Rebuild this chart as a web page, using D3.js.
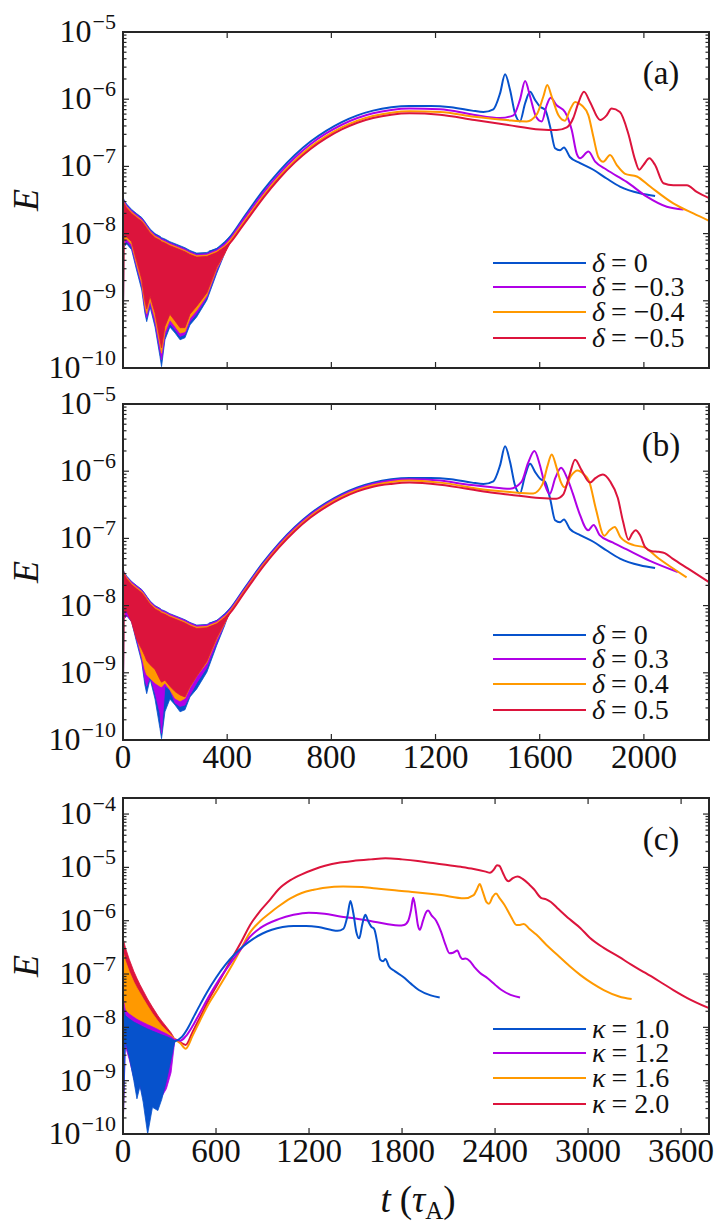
<!DOCTYPE html>
<html><head><meta charset="utf-8">
<script src="https://cdn.jsdelivr.net/npm/d3@7"></script>
<style>body{margin:0;background:#fff}</style>
</head><body>
<svg id="chart" width="728" height="1231"></svg>
<script>
// ---------------- DATA (E given as log10 E) ----------------
const xTicksAB = [0, 400, 800, 1200, 1600, 2000];
const xTicksC = [0, 600, 1200, 1800, 2400, 3000, 3600];
const yExpAB = [-10, -9, -8, -7, -6, -5];
const yExpC = [-10, -9, -8, -7, -6, -5, -4];
const legendA = ["0", "\u22120.3", "\u22120.4", "\u22120.5"];
const legendB = ["0", "0.3", "0.4", "0.5"];
const legendC = ["1.0", "1.2", "1.6", "2.0"];

// early oscillating phase: envelopes (log10 E) on a shared time grid
const tBandAB = [0, 4, 14, 33, 52, 72, 84, 91, 104, 123, 142, 148, 161, 180, 200, 219, 238, 257, 283, 322, 360, 390, 415];
const blueBandHiAB = [-7.45,-7.50,-7.56,-7.64,-7.70,-7.76,-7.82,-7.86,-7.93,-8.00,-8.04,-8.06,-8.08,-8.12,-8.15,-8.18,-8.21,-8.25,-8.29,-8.28,-8.22,-8.12,-8.03];
const blueBandLoAB = [-10,-8.20,-8.15,-8.24,-8.54,-8.84,-9.18,-9.31,-9.09,-9.39,-9.83,-9.98,-9.58,-9.39,-9.48,-9.58,-9.55,-9.36,-9.24,-8.99,-8.59,-8.30,-8.03];
const purpleBandHiA = [-7.45,-7.52,-7.58,-7.66,-7.72,-7.78,-7.84,-7.88,-7.95,-8.02,-8.06,-8.08,-8.10,-8.14,-8.17,-8.20,-8.23,-8.27,-8.31,-8.30,-8.24,-8.15,-8.06];
const purpleBandLoA = [-10,-8.15,-8.12,-8.20,-8.49,-8.78,-9.12,-9.25,-9.04,-9.33,-9.75,-9.88,-9.52,-9.34,-9.43,-9.53,-9.50,-9.31,-9.19,-8.95,-8.55,-8.30,-8.06];
const orangeBandHiA = [-7.45,-7.54,-7.60,-7.68,-7.74,-7.80,-7.86,-7.90,-7.97,-8.04,-8.08,-8.10,-8.12,-8.16,-8.19,-8.22,-8.25,-8.29,-8.33,-8.32,-8.26,-8.18,-8.09];
const orangeBandLoA = [-10,-8.10,-8.08,-8.16,-8.45,-8.74,-9.07,-9.19,-8.99,-9.26,-9.66,-9.78,-9.46,-9.28,-9.38,-9.48,-9.46,-9.26,-9.14,-8.92,-8.52,-8.30,-8.09];
const redBandHiA = [-7.45,-7.55,-7.62,-7.70,-7.76,-7.82,-7.88,-7.92,-7.99,-8.06,-8.10,-8.12,-8.14,-8.18,-8.21,-8.24,-8.27,-8.31,-8.35,-8.34,-8.28,-8.20,-8.12];
const redBandLoA = [-10,-8.05,-8.05,-8.12,-8.40,-8.68,-9.00,-9.12,-8.93,-9.18,-9.58,-9.70,-9.38,-9.20,-9.30,-9.40,-9.40,-9.20,-9.08,-8.88,-8.50,-8.30,-8.12];
const purpleBandHiB = [-7.45,-7.51,-7.57,-7.65,-7.71,-7.77,-7.83,-7.87,-7.94,-8.01,-8.05,-8.07,-8.09,-8.13,-8.16,-8.19,-8.22,-8.26,-8.30,-8.29,-8.23,-8.14,-8.05];
const purpleBandLoB = [-10,-8.20,-8.15,-8.22,-8.50,-8.80,-9.10,-9.20,-9.05,-9.30,-9.60,-9.90,-9.20,-9.25,-9.45,-9.50,-9.48,-9.33,-9.15,-8.92,-8.55,-8.28,-8.05];
const orangeBandHiB = [-7.45,-7.52,-7.58,-7.67,-7.73,-7.79,-7.85,-7.89,-7.96,-8.03,-8.07,-8.09,-8.11,-8.15,-8.18,-8.21,-8.24,-8.28,-8.32,-8.31,-8.25,-8.16,-8.07];
const orangeBandLoB = [-10,-8.05,-8.02,-8.15,-8.45,-8.75,-8.95,-9.03,-9.08,-9.15,-9.20,-9.21,-9.15,-9.25,-9.38,-9.42,-9.38,-9.22,-9.05,-8.85,-8.50,-8.27,-8.07];
const redBandHiB = [-7.45,-7.53,-7.60,-7.69,-7.75,-7.81,-7.87,-7.91,-7.98,-8.05,-8.09,-8.11,-8.13,-8.17,-8.20,-8.23,-8.26,-8.30,-8.34,-8.33,-8.27,-8.18,-8.09];
const redBandLoB = [-10,-8.10,-8.08,-8.25,-8.50,-8.65,-8.75,-8.82,-8.88,-8.95,-9.10,-9.14,-9.11,-9.20,-9.28,-9.33,-9.36,-9.21,-9.05,-8.83,-8.48,-8.26,-8.09];

const tBandC = [0, 15, 40, 70, 90, 110, 130, 159, 190, 225, 250, 280, 310, 335];
const blueBandHiC = [-7.60,-7.78,-7.84,-7.90,-7.93,-7.96,-7.99,-8.03,-8.07,-8.11,-8.14,-8.17,-8.21,-8.25];
const blueBandLoC = [-10,-8.25,-8.55,-9.00,-9.34,-9.10,-9.40,-10.0,-9.50,-9.56,-9.35,-9.00,-8.60,-8.25];
const purpleBandHiC = [-7.45,-7.68,-7.75,-7.81,-7.85,-7.88,-7.91,-7.95,-7.99,-8.04,-8.08,-8.12,-8.17,-8.23];
const purpleBandLoC = [-10,-8.35,-8.60,-8.95,-9.20,-9.10,-9.30,-9.40,-9.35,-9.40,-9.30,-9.15,-8.85,-8.23];
const orangeBandHiC = [-6.58,-6.75,-6.95,-7.15,-7.26,-7.36,-7.46,-7.60,-7.74,-7.88,-7.97,-8.06,-8.14,-8.22];
const orangeBandLoC = [-10,-7.75,-7.90,-8.05,-8.12,-8.18,-8.23,-8.28,-8.30,-8.32,-8.30,-8.28,-8.25,-8.22];
const redBandHiC = [-6.32,-6.50,-6.72,-6.95,-7.08,-7.20,-7.31,-7.47,-7.62,-7.78,-7.88,-7.99,-8.10,-8.22];
const redBandLoC = [-10,-7.30,-7.55,-7.80,-7.92,-8.00,-8.07,-8.14,-8.19,-8.23,-8.24,-8.24,-8.23,-8.22];

// smooth phase: [t, log10 E]
const blueLine = [[330,-8.27],[380,-8.18],[415,-8.03],[460,-7.78],[500,-7.56],[540,-7.35],[600,-7.07],[660,-6.83],[720,-6.63],[780,-6.47],[840,-6.34],[900,-6.24],[960,-6.17],[1030,-6.12],[1100,-6.10],[1180,-6.10],[1260,-6.12],[1340,-6.17],[1384,-6.19],[1422,-6.15],[1448,-5.91],[1467,-5.63],[1486,-5.86],[1505,-6.21],[1524,-6.33],[1544,-6.06],[1563,-5.89],[1582,-6.01],[1601,-6.11],[1621,-6.16],[1640,-6.41],[1659,-6.73],[1678,-6.76],[1693,-6.72],[1716,-6.86],[1755,-6.95],[1806,-7.05],[1857,-7.18],[1908,-7.30],[1985,-7.40],[2043,-7.44]];
const purpleLineA = [[330,-8.30],[380,-8.21],[415,-8.06],[460,-7.81],[500,-7.60],[540,-7.39],[600,-7.11],[660,-6.87],[720,-6.67],[780,-6.51],[840,-6.38],[900,-6.28],[960,-6.21],[1030,-6.16],[1100,-6.14],[1217,-6.15],[1345,-6.23],[1448,-6.28],[1499,-6.24],[1524,-6.01],[1544,-5.73],[1563,-5.96],[1586,-6.26],[1608,-6.33],[1627,-6.09],[1642,-5.98],[1665,-6.09],[1697,-6.19],[1723,-6.46],[1742,-6.81],[1755,-6.88],[1787,-6.78],[1813,-6.93],[1857,-7.05],[1934,-7.23],[2011,-7.45],[2088,-7.60],[2152,-7.64]];
const orangeLineA = [[330,-8.32],[380,-8.24],[415,-8.09],[460,-7.85],[500,-7.64],[540,-7.43],[600,-7.15],[660,-6.91],[720,-6.71],[780,-6.55],[840,-6.42],[900,-6.32],[960,-6.25],[1030,-6.20],[1100,-6.18],[1217,-6.19],[1350,-6.26],[1473,-6.31],[1550,-6.33],[1588,-6.23],[1614,-5.96],[1629,-5.79],[1646,-5.96],[1672,-6.24],[1697,-6.32],[1716,-6.16],[1736,-6.04],[1761,-6.09],[1787,-6.24],[1806,-6.56],[1825,-6.86],[1844,-6.93],[1870,-6.83],[1896,-6.98],[1928,-7.11],[1973,-7.15],[2024,-7.30],[2113,-7.55],[2190,-7.70],[2250,-7.81]];
const redLineA = [[330,-8.34],[380,-8.26],[415,-8.12],[460,-7.88],[500,-7.67],[540,-7.46],[600,-7.18],[660,-6.94],[720,-6.74],[780,-6.58],[840,-6.45],[900,-6.35],[960,-6.28],[1030,-6.23],[1100,-6.21],[1217,-6.23],[1350,-6.31],[1473,-6.38],[1601,-6.45],[1665,-6.46],[1704,-6.42],[1729,-6.28],[1748,-6.06],[1770,-5.89],[1793,-6.04],[1832,-6.31],[1857,-6.24],[1876,-6.14],[1908,-6.19],[1940,-6.51],[1966,-6.90],[1982,-7.05],[1998,-6.98],[2021,-6.88],[2043,-6.98],[2075,-7.25],[2113,-7.28],[2165,-7.28],[2203,-7.38],[2250,-7.47]];
const purpleLineB = [[330,-8.29],[380,-8.20],[415,-8.05],[460,-7.80],[500,-7.58],[540,-7.37],[600,-7.09],[660,-6.85],[720,-6.65],[780,-6.49],[840,-6.36],[900,-6.26],[960,-6.19],[1030,-6.14],[1100,-6.12],[1217,-6.14],[1307,-6.19],[1400,-6.23],[1486,-6.26],[1530,-6.16],[1555,-5.88],[1580,-5.70],[1600,-5.90],[1620,-6.20],[1638,-6.34],[1660,-6.10],[1682,-5.95],[1705,-6.10],[1727,-6.33],[1750,-6.60],[1786,-6.88],[1807,-6.80],[1830,-6.95],[1880,-7.06],[1932,-7.16],[2021,-7.33],[2130,-7.50]];
const orangeLineB = [[330,-8.31],[380,-8.22],[415,-8.07],[460,-7.82],[500,-7.60],[540,-7.39],[600,-7.11],[660,-6.87],[720,-6.67],[780,-6.51],[840,-6.38],[900,-6.28],[960,-6.21],[1030,-6.16],[1100,-6.14],[1217,-6.17],[1400,-6.28],[1486,-6.31],[1575,-6.33],[1610,-6.20],[1630,-5.92],[1646,-5.75],[1665,-5.95],[1680,-6.15],[1696,-6.24],[1720,-6.07],[1745,-5.99],[1770,-6.05],[1790,-6.15],[1815,-6.55],[1848,-6.96],[1868,-6.88],[1888,-6.83],[1910,-6.98],[1960,-7.10],[2000,-7.13],[2057,-7.30],[2164,-7.58]];
const redLineB = [[330,-8.33],[380,-8.24],[415,-8.09],[460,-7.84],[500,-7.62],[540,-7.41],[600,-7.13],[660,-6.89],[720,-6.69],[780,-6.53],[840,-6.40],[900,-6.30],[960,-6.23],[1030,-6.19],[1100,-6.17],[1217,-6.20],[1400,-6.31],[1486,-6.35],[1600,-6.40],[1664,-6.41],[1690,-6.35],[1715,-6.05],[1736,-5.83],[1760,-5.98],[1793,-6.17],[1815,-6.10],[1843,-6.05],[1870,-6.15],[1900,-6.40],[1920,-6.75],[1941,-7.02],[1955,-6.93],[1968,-6.88],[1985,-6.95],[2005,-7.13],[2030,-7.19],[2057,-7.20],[2080,-7.22],[2110,-7.30],[2170,-7.45],[2250,-7.65]];
const purpleLineC = [[335,-8.23],[370,-8.25],[404,-8.17],[450,-7.97],[494,-7.74],[550,-7.44],[614,-7.13],[700,-6.77],[764,-6.52],[820,-6.30],[884,-6.14],[1004,-5.97],[1100,-5.89],[1198,-5.85],[1300,-5.87],[1400,-5.92],[1500,-5.96],[1603,-6.01],[1700,-6.06],[1780,-6.09],[1813,-6.08],[1840,-6.00],[1858,-5.80],[1872,-5.57],[1887,-5.78],[1902,-6.08],[1915,-6.17],[1935,-6.00],[1955,-5.84],[1968,-5.81],[1990,-5.90],[2020,-6.00],[2052,-6.21],[2080,-6.45],[2106,-6.61],[2130,-6.60],[2157,-6.56],[2175,-6.67],[2190,-6.72],[2210,-6.71],[2238,-6.76],[2270,-6.88],[2300,-6.97],[2352,-7.08],[2400,-7.20],[2442,-7.30],[2500,-7.39],[2561,-7.44]];
const orangeLineC = [[335,-8.22],[370,-8.30],[404,-8.40],[450,-8.15],[494,-7.89],[550,-7.57],[614,-7.27],[700,-6.85],[764,-6.51],[820,-6.22],[884,-6.01],[950,-5.85],[1004,-5.73],[1080,-5.58],[1153,-5.48],[1230,-5.42],[1303,-5.38],[1420,-5.36],[1543,-5.37],[1650,-5.40],[1753,-5.43],[1900,-5.47],[2052,-5.52],[2202,-5.58],[2262,-5.52],[2285,-5.40],[2301,-5.31],[2320,-5.45],[2345,-5.65],[2361,-5.68],[2385,-5.55],[2406,-5.49],[2430,-5.58],[2460,-5.70],[2502,-5.92],[2538,-6.08],[2560,-6.08],[2585,-6.06],[2620,-6.15],[2666,-6.26],[2730,-6.45],[2801,-6.64],[2880,-6.85],[2951,-7.02],[3030,-7.18],[3101,-7.30],[3200,-7.42],[3281,-7.47]];
const redLineC = [[335,-8.22],[370,-8.28],[404,-8.33],[450,-8.08],[494,-7.83],[550,-7.50],[614,-7.17],[700,-6.72],[764,-6.39],[820,-6.08],[884,-5.82],[950,-5.60],[1004,-5.41],[1080,-5.24],[1153,-5.13],[1230,-5.04],[1303,-4.97],[1400,-4.91],[1483,-4.88],[1600,-4.85],[1693,-4.83],[1800,-4.85],[1902,-4.88],[2000,-4.92],[2082,-4.95],[2180,-4.99],[2262,-5.03],[2340,-5.08],[2367,-5.10],[2395,-5.03],[2412,-4.96],[2427,-4.97],[2450,-5.10],[2470,-5.22],[2487,-5.26],[2515,-5.20],[2546,-5.17],[2580,-5.22],[2620,-5.32],[2651,-5.41],[2696,-5.57],[2730,-5.60],[2760,-5.65],[2801,-5.76],[2880,-5.97],[2951,-6.14],[3011,-6.32],[3101,-6.51],[3200,-6.68],[3281,-6.83],[3370,-6.98],[3461,-7.14],[3550,-7.30],[3640,-7.45],[3780,-7.64]];

// ---------------- STYLE / LAYOUT ----------------
const COL = {blue: "#0652CC", purple: "#B000E6", orange: "#FF9900", red: "#DC143C"};
const FONT = "'Liberation Serif','DejaVu Serif',serif";
const AX = "#262626", TXT = "#111";
const L = 123, R = 709, PH = 336;

const svg = d3.select("#chart");
svg.append("rect").attr("width", 728).attr("height", 1231).attr("fill", "#fff");
const defs = svg.append("defs");

const zipBand = (t, lo, hi) => t.map((v, i) => ({t: v, lo: lo[i], hi: hi[i]}));

const panels = [
  {id: "a", top: 32, xMax: 2250, yMin: 1e-10, yMax: 1e-5, xTicks: xTicksAB, xLabels: false, yExp: yExpAB,
   sym: "\u03B4", legend: legendA, order: ["blue", "purple", "orange", "red"],
   series: {
     blue: {band: zipBand(tBandAB, blueBandLoAB, blueBandHiAB), line: blueLine},
     purple: {band: zipBand(tBandAB, purpleBandLoA, purpleBandHiA), line: purpleLineA},
     orange: {band: zipBand(tBandAB, orangeBandLoA, orangeBandHiA), line: orangeLineA},
     red: {band: zipBand(tBandAB, redBandLoA, redBandHiA), line: redLineA}}},
  {id: "b", top: 404, xMax: 2250, yMin: 1e-10, yMax: 1e-5, xTicks: xTicksAB, xLabels: true, yExp: yExpAB,
   sym: "\u03B4", legend: legendB, order: ["blue", "purple", "orange", "red"],
   series: {
     blue: {band: zipBand(tBandAB, blueBandLoAB, blueBandHiAB), line: blueLine},
     purple: {band: zipBand(tBandAB, purpleBandLoB, purpleBandHiB), line: purpleLineB},
     orange: {band: zipBand(tBandAB, orangeBandLoB, orangeBandHiB), line: orangeLineB},
     red: {band: zipBand(tBandAB, redBandLoB, redBandHiB), line: redLineB}}},
  {id: "c", top: 798, xMax: 3780, yMin: 1e-10, yMax: 2e-4, xTicks: xTicksC, xLabels: true, yExp: yExpC,
   sym: "\u03BA", legend: legendC, order: ["red", "orange", "purple", "blue"],
   series: {
     blue: {band: zipBand(tBandC, blueBandLoC, blueBandHiC), line: blueLine},
     purple: {band: zipBand(tBandC, purpleBandLoC, purpleBandHiC), line: purpleLineC},
     orange: {band: zipBand(tBandC, orangeBandLoC, orangeBandHiC), line: orangeLineC},
     red: {band: zipBand(tBandC, redBandLoC, redBandHiC), line: redLineC}}}
];
const legendOrder = ["blue", "purple", "orange", "red"];

panels.forEach(p => {
  const top = p.top, bot = p.top + PH;
  const x = d3.scaleLinear().domain([0, p.xMax]).range([L, R]);
  const y = d3.scaleLog().domain([p.yMin, p.yMax]).range([bot, top]);
  const g = svg.append("g");

  defs.append("clipPath").attr("id", "clip" + p.id)
    .append("rect").attr("x", L).attr("y", top).attr("width", R - L).attr("height", PH);
  const plot = g.append("g").attr("clip-path", `url(#clip${p.id})`);

  const area = d3.area().x(d => x(d.t)).y0(d => y(Math.pow(10, d.lo))).y1(d => y(Math.pow(10, d.hi)));
  const line = d3.line().x(d => x(d[0])).y(d => y(Math.pow(10, d[1]))).curve(d3.curveMonotoneX);

  p.order.forEach(k => {
    const s = p.series[k];
    plot.append("path").attr("d", area(s.band)).attr("fill", COL[k])
      .attr("stroke", COL[k]).attr("stroke-width", 0.8);
    plot.append("path").attr("d", line(s.line)).attr("fill", "none")
      .attr("stroke", COL[k]).attr("stroke-width", 2).attr("stroke-linejoin", "round");
  });

  // ticks (inward, all four sides)
  const tk = g.append("g").attr("stroke", AX).attr("stroke-width", 1.2);
  p.xTicks.forEach(v => {
    const xx = x(v);
    tk.append("line").attr("x1", xx).attr("x2", xx).attr("y1", bot).attr("y2", bot - 6);
    tk.append("line").attr("x1", xx).attr("x2", xx).attr("y1", top).attr("y2", top + 6);
  });
  const e0 = Math.floor(Math.log10(p.yMin)), e1 = Math.ceil(Math.log10(p.yMax));
  for (let e = e0; e <= e1; e++) {
    for (let m = 1; m <= 9; m++) {
      const v = m * Math.pow(10, e);
      if (v < p.yMin * 0.999 || v > p.yMax * 1.001) continue;
      const len = m === 1 ? 6 : 3.5;
      const yy = y(v);
      tk.append("line").attr("x1", L).attr("x2", L + len).attr("y1", yy).attr("y2", yy);
      tk.append("line").attr("x1", R).attr("x2", R - len).attr("y1", yy).attr("y2", yy);
    }
  }
  g.append("rect").attr("x", L).attr("y", top).attr("width", R - L).attr("height", PH)
    .attr("fill", "none").attr("stroke", AX).attr("stroke-width", 2);

  // y tick labels 10^e
  p.yExp.forEach(e => {
    const yy = y(Math.pow(10, e));
    const t = g.append("text").attr("x", 116).attr("y", yy + 10).attr("text-anchor", "end")
      .attr("font-family", FONT).attr("font-size", 32).attr("fill", TXT);
    t.append("tspan").text("10");
    t.append("tspan").attr("dy", -13).attr("dx", 1).attr("font-size", 22).text("\u2212" + Math.abs(e));
  });
  if (p.xLabels) {
    p.xTicks.forEach(v => {
      g.append("text").attr("x", x(v)).attr("y", bot + 28).attr("text-anchor", "middle")
        .attr("font-family", FONT).attr("font-size", 33).attr("fill", TXT).text(v);
    });
  }
  // y label
  g.append("text").attr("transform", `translate(38,${(top + bot) / 2}) rotate(-90)`)
    .attr("text-anchor", "middle").attr("font-family", FONT).attr("font-style", "italic")
    .attr("font-size", 36).attr("fill", TXT).text("E");
  // panel tag
  g.append("text").attr("x", 661).attr("y", top + 52).attr("text-anchor", "middle")
    .attr("font-family", FONT).attr("font-size", 33).attr("fill", TXT).text(`(${p.id})`);
  // legend
  const rows = [231, 255, 280, 306];
  legendOrder.forEach((k, i) => {
    const yy = top + rows[i];
    g.append("line").attr("x1", 493).attr("x2", 586).attr("y1", yy).attr("y2", yy)
      .attr("stroke", COL[k]).attr("stroke-width", 2);
    const t = g.append("text").attr("x", 592).attr("y", yy + 9)
      .attr("font-family", FONT).attr("font-size", 28).attr("fill", TXT);
    t.append("tspan").attr("font-style", "italic").text(p.sym);
    t.append("tspan").attr("dx", 6).text("=");
    t.append("tspan").attr("dx", 7).text(p.legend[i]);
  });
});

// x axis label
const xl = svg.append("text").attr("x", 418).attr("y", 1212).attr("text-anchor", "middle")
  .attr("font-family", FONT).attr("font-size", 37).attr("fill", TXT);
xl.append("tspan").attr("font-style", "italic").text("t");
xl.append("tspan").attr("dx", 9).text("(");
xl.append("tspan").attr("font-style", "italic").text("\u03C4");
xl.append("tspan").attr("font-size", 25).attr("dy", 7).text("A");
xl.append("tspan").attr("dy", -7).text(")");
</script>
</body></html>
